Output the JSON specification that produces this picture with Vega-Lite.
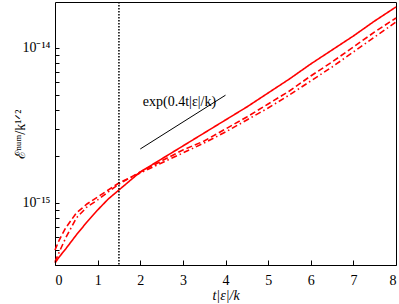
{
  "$schema": "https://vega.github.io/schema/vega-lite/v6.json",
  "width": 341,
  "height": 263,
  "autosize": "none",
  "padding": {"left": 55, "top": 2, "right": 3, "bottom": 39},
  "background": "white",
  "config": {
    "view": {"stroke": "black", "strokeWidth": 1}
  },
  "datasets": {
    "curves": [
      {"s": "solid", "t": 0, "E": 4.10e-16}, {"s": "solid", "t": 0.1, "E": 4.49e-16}, {"s": "solid", "t": 0.25, "E": 5.05e-16}, {"s": "solid", "t": 0.5, "E": 6.22e-16}, {"s": "solid", "t": 0.75, "E": 7.54e-16}, {"s": "solid", "t": 1, "E": 9.01e-16}, {"s": "solid", "t": 1.25, "E": 1.061e-15}, {"s": "solid", "t": 1.5, "E": 1.213e-15}, {"s": "solid", "t": 1.75, "E": 1.387e-15}, {"s": "solid", "t": 2, "E": 1.585e-15}, {"s": "solid", "t": 2.5, "E": 1.922e-15}, {"s": "solid", "t": 3, "E": 2.332e-15}, {"s": "solid", "t": 3.5, "E": 2.829e-15}, {"s": "solid", "t": 4, "E": 3.432e-15}, {"s": "solid", "t": 4.5, "E": 4.163e-15}, {"s": "solid", "t": 5, "E": 5.125e-15}, {"s": "solid", "t": 5.5, "E": 6.31e-15}, {"s": "solid", "t": 6, "E": 7.885e-15}, {"s": "solid", "t": 6.5, "E": 9.707e-15}, {"s": "solid", "t": 7, "E": 1.195e-14}, {"s": "solid", "t": 7.5, "E": 1.494e-14}, {"s": "solid", "t": 8, "E": 1.839e-14},
      {"s": "dashed", "t": 0, "E": 4.97e-16}, {"s": "dashed", "t": 0.1, "E": 5.77e-16}, {"s": "dashed", "t": 0.25, "E": 6.90e-16}, {"s": "dashed", "t": 0.5, "E": 8.61e-16}, {"s": "dashed", "t": 0.75, "E": 9.85e-16}, {"s": "dashed", "t": 1, "E": 1.093e-15}, {"s": "dashed", "t": 1.25, "E": 1.213e-15}, {"s": "dashed", "t": 1.5, "E": 1.346e-15}, {"s": "dashed", "t": 1.75, "E": 1.45e-15}, {"s": "dashed", "t": 2, "E": 1.585e-15}, {"s": "dashed", "t": 2.5, "E": 1.866e-15}, {"s": "dashed", "t": 3, "E": 2.198e-15}, {"s": "dashed", "t": 3.5, "E": 2.512e-15}, {"s": "dashed", "t": 4, "E": 3.002e-15}, {"s": "dashed", "t": 4.5, "E": 3.588e-15}, {"s": "dashed", "t": 5, "E": 4.352e-15}, {"s": "dashed", "t": 5.5, "E": 5.28e-15}, {"s": "dashed", "t": 6, "E": 6.597e-15}, {"s": "dashed", "t": 6.5, "E": 8.124e-15}, {"s": "dashed", "t": 7, "E": 1.015e-14}, {"s": "dashed", "t": 7.5, "E": 1.269e-14}, {"s": "dashed", "t": 8, "E": 1.562e-14},
      {"s": "dashdot", "t": 0, "E": 4.17e-16}, {"s": "dashdot", "t": 0.1, "E": 4.83e-16}, {"s": "dashdot", "t": 0.25, "E": 5.94e-16}, {"s": "dashdot", "t": 0.5, "E": 8.00e-16}, {"s": "dashdot", "t": 0.75, "E": 9.42e-16}, {"s": "dashdot", "t": 1, "E": 1.046e-15}, {"s": "dashdot", "t": 1.25, "E": 1.178e-15}, {"s": "dashdot", "t": 1.5, "E": 1.326e-15}, {"s": "dashdot", "t": 1.75, "E": 1.45e-15}, {"s": "dashdot", "t": 2, "E": 1.562e-15}, {"s": "dashdot", "t": 2.5, "E": 1.812e-15}, {"s": "dashdot", "t": 3, "E": 2.102e-15}, {"s": "dashdot", "t": 3.5, "E": 2.438e-15}, {"s": "dashdot", "t": 4, "E": 2.871e-15}, {"s": "dashdot", "t": 4.5, "E": 3.432e-15}, {"s": "dashdot", "t": 5, "E": 4.102e-15}, {"s": "dashdot", "t": 5.5, "E": 4.976e-15}, {"s": "dashdot", "t": 6, "E": 6.125e-15}, {"s": "dashdot", "t": 6.5, "E": 7.541e-15}, {"s": "dashdot", "t": 7, "E": 9.424e-15}, {"s": "dashdot", "t": 7.5, "E": 1.178e-14}, {"s": "dashdot", "t": 8, "E": 1.472e-14}
    ],
    "slope": [{"t": 2, "E": 2.23e-15}, {"t": 4, "E": 4.96e-15}],
    "vline": [{"t": 1.5}],
    "label": [{"t": 2.92, "E": 4.45e-15, "txt": "exp(0.4t|ε|/k)"}]
  },
  "layer": [
    {
      "data": {"name": "curves"},
      "mark": {"type": "line", "color": "#ff0000", "strokeWidth": 1.6},
      "encoding": {
        "x": {"field": "t", "type": "quantitative", "scale": {"domain": [0, 8], "nice": false, "zero": false},
          "axis": {"orient": "bottom", "values": [0,1,2,3,4,5,6,7,8], "ticks": true, "tickSize": 5, "offset": -5, "tickColor": "black", "tickWidth": 1, "zindex": 2, "domain": false, "grid": false,
            "labelFont": "Liberation Serif", "labelFontSize": 14, "labelColor": "black", "labelPadding": 8,
            "title": "t|ε|/k", "titleFont": "Liberation Serif", "titleFontSize": 14, "titleFontWeight": "normal", "titleFontStyle": "italic", "titleColor": "black", "titlePadding": 1}},
        "y": {"field": "E", "type": "quantitative", "scale": {"type": "log", "domain": [3.98e-16, 1.98e-14], "nice": false},
          "axis": {"orient": "left", "values": [4e-16,5e-16,6e-16,7e-16,8e-16,9e-16,1e-15,2e-15,3e-15,4e-15,5e-15,6e-15,7e-15,8e-15,9e-15,1e-14],
            "labelExpr": "datum.value == 1e-15 ? '10⁻¹⁵' : (datum.value == 1e-14 ? '10⁻¹⁴' : '')",
            "ticks": true, "tickSize": -4, "tickColor": "black", "tickWidth": 1, "zindex": 2, "domain": false, "grid": false,
            "labelFont": "Liberation Serif", "labelFontSize": 14, "labelColor": "black", "labelPadding": 9,
            "title": "ℰⁿᵘᵐ/k¹ᐟ²", "titleFont": "Liberation Serif", "titleFontSize": 14, "titleFontWeight": "normal", "titleColor": "black", "titlePadding": -6}},
        "strokeDash": {"field": "s", "type": "nominal", "scale": {"domain": ["solid", "dashed", "dashdot"], "range": [[1, 0], [6, 3], [6, 3, 1.5, 3]]}, "legend": null}
      }
    },
    {
      "data": {"name": "slope"},
      "mark": {"type": "line", "color": "black", "strokeWidth": 1},
      "encoding": {
        "x": {"field": "t", "type": "quantitative"},
        "y": {"field": "E", "type": "quantitative"}
      }
    },
    {
      "data": {"name": "vline"},
      "mark": {"type": "rule", "color": "black", "strokeWidth": 1.5, "strokeDash": [1.5, 1.5]},
      "encoding": {"x": {"field": "t", "type": "quantitative"}}
    },
    {
      "data": {"name": "label"},
      "mark": {"type": "text", "font": "Liberation Serif", "fontSize": 14, "color": "black", "align": "center", "baseline": "middle"},
      "encoding": {
        "x": {"field": "t", "type": "quantitative"},
        "y": {"field": "E", "type": "quantitative"},
        "text": {"field": "txt"}
      }
    }
  ]
}
